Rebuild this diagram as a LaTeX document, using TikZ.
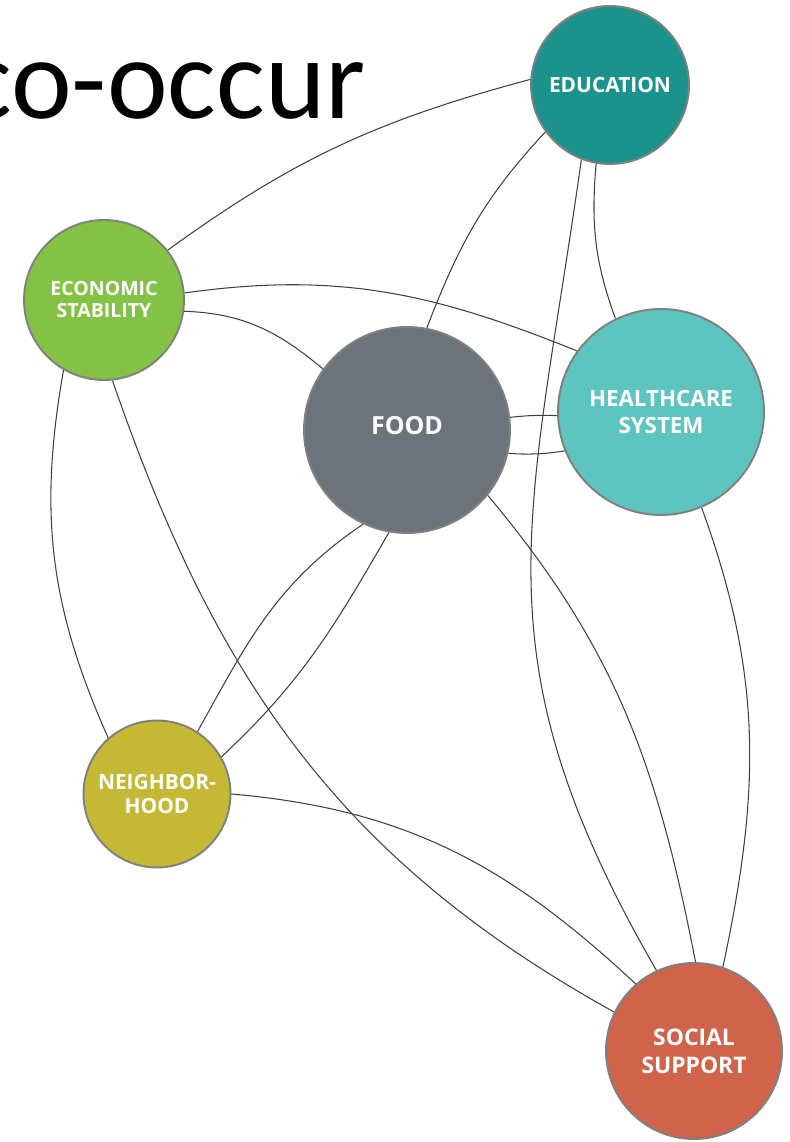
\documentclass[tikz,border=0pt]{standalone}
\usepackage{fontspec}
\setmainfont{Open Sans}
\newfontfamily\titlefont{Carlito}
\definecolor{educol}{RGB}{27,147,140}
\definecolor{econcol}{RGB}{132,194,70}
\definecolor{foodcol}{RGB}{108,115,122}
\definecolor{carecol}{RGB}{94,196,191}
\definecolor{hoodcol}{RGB}{197,184,52}
\definecolor{suppcol}{RGB}{208,100,74}
\definecolor{rimgray}{RGB}{128,128,128}
\begin{document}
\begin{tikzpicture}[x=0.02cm,y=0.02cm,
    bubble/.style={circle,draw=rimgray,line width=1.1pt,text=white,align=center,inner sep=0pt},
    link/.style={draw=black!75,line width=0.6pt}]
    \useasboundingbox (0,0) rectangle (790,1142);
    \node[anchor=base east,inner sep=0pt,font=\titlefont\fontsize{65.5}{70}\selectfont] (title) at (366,1023) {co-occur};
    % circles
    \node[bubble,fill=educol,minimum size=3.16cm,font=\bfseries\fontsize{11.9}{14}\selectfont] (edu) at (610,1057) {EDUCATION};
    \node[bubble,fill=econcol,minimum size=3.2cm,font=\bfseries\fontsize{11.1}{12.5}\selectfont] (econ) at (104,842) {ECONOMIC\\STABILITY};
    \node[bubble,fill=foodcol,minimum size=4.12cm,font=\bfseries\fontsize{14.2}{16}\selectfont] (food) at (407,712) {\raisebox{5pt}{FOOD}};
    \node[bubble,fill=carecol,minimum size=4.12cm,font=\bfseries\fontsize{12.7}{15.3}\selectfont] (care) at (661,730) {HEALTHCARE\\SYSTEM};
    \node[bubble,fill=hoodcol,minimum size=2.94cm,font=\bfseries\fontsize{11.9}{13.3}\selectfont] (hood) at (157,348) {NEIGHBOR-\\HOOD};
    \node[bubble,fill=suppcol,minimum size=3.52cm,font=\bfseries\fontsize{13}{16}\selectfont] (supp) at (694,91) {SOCIAL\\SUPPORT};
    % links
    \draw[link] (econ.38) to[out=36,in=-165] (edu.176);
    \draw[link] (econ.5) to[out=8,in=158] (care.144);
    \draw[link] (econ.-8) to[out=-2,in=140] (food.144);
    \draw[link] (econ.-120) to[out=-100,in=114] (hood.131);
    \draw[link] (econ.-84) to[out=-71,in=151] (supp.154);
    \draw[link] (hood.0) to[out=-5,in=137] (supp.131);
    \draw[link] (food.-115) to[out=-146,in=61] (hood.57);
    \draw[link] (food.-100) to[out=-120,in=43] (hood.30);
    \draw[link] (food.79) to[out=69,in=-133] (edu.-144);
    \draw[link] (edu.-100) to[out=-95,in=110] (care.116);
    \draw[link] (edu.-111) to[out=-98,in=120,looseness=1.15] (supp.115);
    \draw[link] (food.-39) to[out=-50,in=101] (supp.89);
    \draw[link] (care.-67) to[out=-70,in=78] (supp.71);
    \draw[link] (food.7) to[bend left=4] (care.-178);
    \draw[link] (food.-13) to[bend right=6] (care.-158);
\end{tikzpicture}
\end{document}
